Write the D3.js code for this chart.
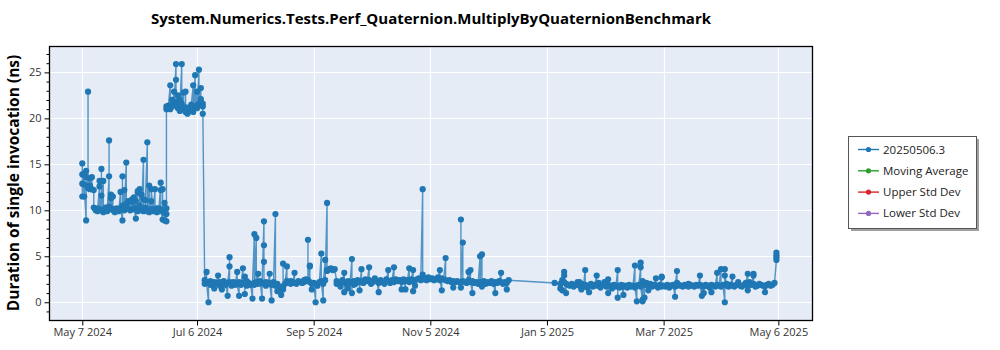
<!DOCTYPE html>
<html>
<head>
<meta charset="utf-8">
<script src="https://cdn.jsdelivr.net/npm/d3@7"></script>
<style>
  html, body { margin: 0; padding: 0; background: #ffffff; }
  svg { display: block; }
</style>
</head>
<body>
<svg id="chart" width="1000" height="350"></svg>
<script>
// ---- Data ----
const chartTitle = "System.Numerics.Tests.Perf_Quaternion.MultiplyByQuaternionBenchmark";
const yAxisTitle = "Duration of single invocation (ns)";
const legendLabels = ["20250506.3", "Moving Average", "Upper Std Dev", "Lower Std Dev"];
const legendColors = ["#1f77b4", "#2ca02c", "#d62728", "#9467bd"];
const xTickDates = ["2024-05-07", "2024-07-06", "2024-09-05", "2024-11-05", "2025-01-05", "2025-03-07", "2025-05-06"];
const xTickLabels = ["May 7 2024", "Jul 6 2024", "Sep 5 2024", "Nov 5 2024", "Jan 5 2025", "Mar 7 2025", "May 6 2025"];
const yTicks = [0, 5, 10, 15, 20, 25];
const xDomain = ["2024-04-19T14:00", "2025-05-24T03:00"];
const yDomain = [-1.93, 27.87];

// each row: run date, then the measured values (ns) of that date
const runs = [
  ["2024-05-07",15.1,13.9,12.9,11.5],
  ["2024-05-08",14.0,11.5,12.8],
  ["2024-05-09",8.9,13.6,14.3],
  ["2024-05-10",12.4,22.9,12.6],
  ["2024-05-11",13.5,12.3,12.7],
  ["2024-05-12",13.6,12.3],
  ["2024-05-13",12.2,10.3],
  ["2024-05-14",10.1,10.0],
  ["2024-05-15",9.9,10.2,10.0],
  ["2024-05-16",12.6,13.2,10.1],
  ["2024-05-17",11.6,14.5,10.0],
  ["2024-05-18",13.2,10.0,9.8],
  ["2024-05-19",10.1,10.3],
  ["2024-05-20",10.0,9.9],
  ["2024-05-21",13.7,17.6,10.4],
  ["2024-05-22",11.7,10.2,11.3],
  ["2024-05-23",10.0,11.5,10.1],
  ["2024-05-24",10.1,9.8],
  ["2024-05-25",10.0,10.2],
  ["2024-05-26",10.1,9.9],
  ["2024-05-27",12.0,10.2],
  ["2024-05-28",8.9,13.7,10.5],
  ["2024-05-29",12.2,10.0],
  ["2024-05-30",15.2,10.4,10.7],
  ["2024-05-31",10.2,11.0],
  ["2024-06-01",10.0,11.0],
  ["2024-06-02",10.9,11.2,10.1],
  ["2024-06-03",11.4,10.2],
  ["2024-06-04",9.1,11.0,10.3],
  ["2024-06-05",9.9,11.9,12.1],
  ["2024-06-06",12.3,10.5],
  ["2024-06-07",11.7,10.0,10.2],
  ["2024-06-08",15.5,11.2,9.9],
  ["2024-06-09",10.3,11.1],
  ["2024-06-10",17.4,9.9,10.0],
  ["2024-06-11",12.7,10.1,9.8],
  ["2024-06-12",11.0,10.1,12.3],
  ["2024-06-13",10.1,9.9],
  ["2024-06-14",12.3,10.0],
  ["2024-06-15",10.2,9.8],
  ["2024-06-16",10.2,9.9],
  ["2024-06-17",13.0,12.2,10.0],
  ["2024-06-18",9.0,12.3,10.1],
  ["2024-06-19",9.7,10.8,8.9],
  ["2024-06-20",8.8,10.2,9.6,21.3,21.0],
  ["2024-06-21",21.2,21.1,21.4],
  ["2024-06-22",23.6,21.2,21.0],
  ["2024-06-23",21.5,22.0,21.3],
  ["2024-06-24",22.9,21.6],
  ["2024-06-25",25.9,24.2,21.8],
  ["2024-06-26",22.5,21.1,21.4],
  ["2024-06-27",21.0,22.0,20.8],
  ["2024-06-28",25.9,21.6,21.2],
  ["2024-06-29",22.8,21.0],
  ["2024-06-30",20.7,22.9,21.2],
  ["2024-07-01",20.5,21.0],
  ["2024-07-02",21.2,20.8],
  ["2024-07-03",21.0,21.5],
  ["2024-07-04",23.6,21.1,20.7],
  ["2024-07-05",24.7,21.3],
  ["2024-07-06",22.9,21.4,21.1],
  ["2024-07-07",25.3,21.6],
  ["2024-07-08",23.3,21.8,22.1],
  ["2024-07-09",21.6,20.5,21.3],
  ["2024-07-10",2.4,2.0],
  ["2024-07-11",3.3,2.1],
  ["2024-07-12",0.0,2.2],
  ["2024-07-13",2.3,1.9],
  ["2024-07-14",2.0],
  ["2024-07-15",1.5,2.2],
  ["2024-07-16",2.1],
  ["2024-07-17",2.9,2.0],
  ["2024-07-18",1.8,2.2],
  ["2024-07-19",1.4,2.1],
  ["2024-07-20",2.3,2.0],
  ["2024-07-21",1.9],
  ["2024-07-22",0.7,2.1],
  ["2024-07-23",3.9,4.9,2.2],
  ["2024-07-24",2.0,1.8],
  ["2024-07-25",2.2],
  ["2024-07-26",1.9,2.1],
  ["2024-07-27",3.3,2.0],
  ["2024-07-28",0.7,2.2],
  ["2024-07-29",1.9],
  ["2024-07-30",3.7,2.1],
  ["2024-07-31",2.8,0.9,2.0],
  ["2024-08-01",2.3,1.8],
  ["2024-08-02",2.1],
  ["2024-08-03",1.9],
  ["2024-08-04",0.4,2.0],
  ["2024-08-05",7.4,2.1,1.9],
  ["2024-08-06",7.0,2.2],
  ["2024-08-07",3.1,2.0],
  ["2024-08-08",2.3],
  ["2024-08-09",0.4,2.1],
  ["2024-08-10",8.8,4.4,6.2,2.0],
  ["2024-08-11",1.8,2.2],
  ["2024-08-12",2.0],
  ["2024-08-13",3.1,2.1],
  ["2024-08-14",0.2,1.9],
  ["2024-08-15",2.2],
  ["2024-08-16",9.6,1.8],
  ["2024-08-17",1.2,2.0],
  ["2024-08-18",1.5],
  ["2024-08-19",0.8,1.7],
  ["2024-08-20",1.6,4.2,1.4],
  ["2024-08-21",2.0],
  ["2024-08-22",3.9,2.3],
  ["2024-08-23",2.1],
  ["2024-08-24",2.3,2.0],
  ["2024-08-25",2.2],
  ["2024-08-26",3.2,2.1],
  ["2024-08-27",2.0],
  ["2024-08-28",2.3],
  ["2024-08-29",2.2],
  ["2024-08-30",2.1],
  ["2024-08-31",2.4,2.2],
  ["2024-09-01",2.5],
  ["2024-09-02",2.3,6.8,2.4],
  ["2024-09-03",4.0,3.9,2.2],
  ["2024-09-04",1.4,2.0],
  ["2024-09-05",2.1],
  ["2024-09-06",0.0,2.0],
  ["2024-09-07",1.8],
  ["2024-09-08",2.2],
  ["2024-09-09",5.3,2.3],
  ["2024-09-10",0.2,2.0],
  ["2024-09-11",4.6,2.4],
  ["2024-09-12",10.8,3.4,3.5],
  ["2024-09-13",3.6],
  ["2024-09-14",3.7,3.6],
  ["2024-09-15",3.5],
  ["2024-09-16",3.6],
  ["2024-09-17",2.3,2.0],
  ["2024-09-18",2.1],
  ["2024-09-19",1.7,2.2],
  ["2024-09-20",2.4],
  ["2024-09-21",3.2,1.1,2.2],
  ["2024-09-22",2.0],
  ["2024-09-23",1.5,2.3],
  ["2024-09-24",2.1],
  ["2024-09-25",4.7,1.0,2.2],
  ["2024-09-26",1.9,2.3],
  ["2024-09-27",2.0],
  ["2024-09-28",2.4],
  ["2024-09-29",2.2,1.3],
  ["2024-09-30",3.6,2.3],
  ["2024-10-01",2.1],
  ["2024-10-02",2.5],
  ["2024-10-03",2.3],
  ["2024-10-04",3.8,2.4],
  ["2024-10-05",2.0],
  ["2024-10-06",2.2],
  ["2024-10-07",2.6],
  ["2024-10-08",2.3],
  ["2024-10-09",1.1,2.1],
  ["2024-10-10",2.4],
  ["2024-10-11",2.2],
  ["2024-10-12",2.0],
  ["2024-10-13",2.5],
  ["2024-10-14",3.5,2.3],
  ["2024-10-15",2.1],
  ["2024-10-16",2.4],
  ["2024-10-17",3.8,2.2],
  ["2024-10-18",2.5],
  ["2024-10-19",2.3],
  ["2024-10-20",2.4],
  ["2024-10-21",1.4,2.2],
  ["2024-10-22",2.5],
  ["2024-10-23",1.4,2.3],
  ["2024-10-24",2.4],
  ["2024-10-25",3.7,2.2],
  ["2024-10-26",2.5],
  ["2024-10-27",3.5,1.2,2.3],
  ["2024-10-28",1.8,2.4],
  ["2024-10-29",2.5],
  ["2024-10-30",2.6],
  ["2024-10-31",2.4],
  ["2024-11-01",12.3,3.0,2.5],
  ["2024-11-02",2.6],
  ["2024-11-03",2.4],
  ["2024-11-04",2.7],
  ["2024-11-05",2.5],
  ["2024-11-06",2.6],
  ["2024-11-07",2.4],
  ["2024-11-08",2.5],
  ["2024-11-09",2.7],
  ["2024-11-10",3.5,2.4],
  ["2024-11-11",1.3,2.6],
  ["2024-11-12",2.5],
  ["2024-11-13",4.8,2.4],
  ["2024-11-14",2.3],
  ["2024-11-15",2.4],
  ["2024-11-16",2.2],
  ["2024-11-17",1.6,2.3],
  ["2024-11-18",2.2],
  ["2024-11-19",2.3],
  ["2024-11-20",2.2],
  ["2024-11-21",1.6,9.0,2.2],
  ["2024-11-22",6.5,2.3],
  ["2024-11-23",2.2],
  ["2024-11-24",2.1],
  ["2024-11-25",3.3,2.4],
  ["2024-11-26",3.5,2.2],
  ["2024-11-27",1.0,2.3],
  ["2024-11-28",2.1],
  ["2024-11-29",2.2],
  ["2024-11-30",2.0],
  ["2024-12-01",5.0,2.2],
  ["2024-12-02",5.2,1.7,2.1],
  ["2024-12-03",2.3],
  ["2024-12-04",2.0],
  ["2024-12-05",2.2],
  ["2024-12-06",2.1],
  ["2024-12-07",2.3],
  ["2024-12-08",2.0],
  ["2024-12-09",1.0,2.2],
  ["2024-12-10",2.1],
  ["2024-12-11",2.3],
  ["2024-12-12",3.2,2.2],
  ["2024-12-13",2.0],
  ["2024-12-14",2.2],
  ["2024-12-15",1.4,2.1],
  ["2024-12-16",2.4],
  ["2025-01-09",2.1],
  ["2025-01-12",2.0,1.5],
  ["2025-01-13",1.3,2.4],
  ["2025-01-14",3.3,2.9,2.2],
  ["2025-01-15",1.0,2.0],
  ["2025-01-16",1.9],
  ["2025-01-17",1.8],
  ["2025-01-18",2.0],
  ["2025-01-19",1.7],
  ["2025-01-20",1.9],
  ["2025-01-21",2.2],
  ["2025-01-22",2.2,1.8],
  ["2025-01-23",1.4,2.0],
  ["2025-01-24",1.7],
  ["2025-01-25",3.5,1.9],
  ["2025-01-26",1.6],
  ["2025-01-27",1.1,1.8],
  ["2025-01-28",2.0],
  ["2025-01-29",1.7],
  ["2025-01-30",1.9],
  ["2025-01-31",2.9,1.8],
  ["2025-02-01",2.1],
  ["2025-02-02",1.6],
  ["2025-02-03",1.9],
  ["2025-02-04",2.2],
  ["2025-02-05",1.7],
  ["2025-02-06",2.5,1.0,1.9],
  ["2025-02-07",1.8],
  ["2025-02-08",1.5],
  ["2025-02-09",1.9],
  ["2025-02-10",1.7],
  ["2025-02-11",3.5,0.5,1.8],
  ["2025-02-12",1.6],
  ["2025-02-13",1.9],
  ["2025-02-14",0.8,1.7],
  ["2025-02-15",1.8],
  ["2025-02-16",1.6],
  ["2025-02-17",1.9],
  ["2025-02-18",1.7],
  ["2025-02-19",1.8],
  ["2025-02-20",4.0,1.6],
  ["2025-02-21",0.1,1.8],
  ["2025-02-22",1.9],
  ["2025-02-23",3.8,4.3,1.7],
  ["2025-02-24",0.1,0.3,2.3],
  ["2025-02-25",0.5,1.9],
  ["2025-02-26",2.1],
  ["2025-02-27",1.3,1.8],
  ["2025-02-28",2.0],
  ["2025-03-01",1.7],
  ["2025-03-02",1.9],
  ["2025-03-03",2.6,1.8],
  ["2025-03-04",1.6],
  ["2025-03-05",1.9],
  ["2025-03-06",2.8,2.7,1.7],
  ["2025-03-07",1.8],
  ["2025-03-08",1.7],
  ["2025-03-09",1.9],
  ["2025-03-10",1.6],
  ["2025-03-11",1.8],
  ["2025-03-12",1.9],
  ["2025-03-13",0.6,1.7],
  ["2025-03-14",3.4,2.1,1.8],
  ["2025-03-15",1.9],
  ["2025-03-16",1.8],
  ["2025-03-17",1.7],
  ["2025-03-18",1.9],
  ["2025-03-19",1.8],
  ["2025-03-20",2.0,1.7],
  ["2025-03-21",1.9],
  ["2025-03-22",1.8],
  ["2025-03-23",1.7],
  ["2025-03-24",1.9],
  ["2025-03-25",1.8],
  ["2025-03-26",2.9,1.9],
  ["2025-03-27",0.7,1.8],
  ["2025-03-28",1.0,1.7],
  ["2025-03-29",1.9],
  ["2025-03-30",1.8],
  ["2025-03-31",1.6],
  ["2025-04-01",1.1,1.9],
  ["2025-04-02",1.8],
  ["2025-04-03",1.7],
  ["2025-04-04",3.2,1.9],
  ["2025-04-05",1.8],
  ["2025-04-06",3.6,1.7],
  ["2025-04-07",1.9],
  ["2025-04-08",0.0,3.6,2.9],
  ["2025-04-09",2.0,1.8],
  ["2025-04-10",1.7],
  ["2025-04-11",1.9],
  ["2025-04-12",2.8,1.8],
  ["2025-04-13",1.7],
  ["2025-04-14",1.9],
  ["2025-04-15",2.2],
  ["2025-04-16",1.8],
  ["2025-04-17",1.7],
  ["2025-04-18",1.9],
  ["2025-04-19",2.1],
  ["2025-04-20",3.1,1.3,1.8],
  ["2025-04-21",2.2],
  ["2025-04-22",1.9],
  ["2025-04-23",3.1,2.9,2.0],
  ["2025-04-24",1.7],
  ["2025-04-25",1.8],
  ["2025-04-26",2.0],
  ["2025-04-27",1.9],
  ["2025-04-28",1.8],
  ["2025-04-29",1.1,1.7],
  ["2025-04-30",1.9],
  ["2025-05-01",2.0],
  ["2025-05-02",1.8],
  ["2025-05-03",1.9],
  ["2025-05-04",2.1],
  ["2025-05-05",4.6,4.9,5.1,5.4]
];

// ---- Layout ----
const plot = { left: 49, right: 813, top: 46, bottom: 320 };
const parseDay = d3.utcParse("%Y-%m-%d");
const parseTime = d3.utcParse("%Y-%m-%dT%H:%M");

const points = runs.flatMap(([d, ...vals]) => vals.map(v => ({ date: parseDay(d), value: v })));

const x = d3.scaleUtc().domain(xDomain.map(parseTime)).range([plot.left, plot.right]);
const y = d3.scaleLinear().domain(yDomain).range([plot.bottom, plot.top]);

const svg = d3.select("#chart");
const font = "'Segoe UI', 'Open Sans', 'Noto Sans', sans-serif";

// background
svg.append("rect")
  .attr("x", plot.left).attr("y", plot.top)
  .attr("width", plot.right - plot.left).attr("height", plot.bottom - plot.top)
  .attr("fill", "#e5ecf6");

// gridlines
const grid = svg.append("g");
grid.selectAll("line.gy").data(yTicks).join("line")
  .attr("x1", plot.left).attr("x2", plot.right)
  .attr("y1", d => Math.round(y(d)) + 0.5).attr("y2", d => Math.round(y(d)) + 0.5)
  .attr("stroke", "#ffffff").attr("stroke-width", 1.2);
grid.selectAll("line.gx").data(xTickDates.map(parseDay)).join("line")
  .attr("y1", plot.top).attr("y2", plot.bottom)
  .attr("x1", d => Math.round(x(d)) + 0.5).attr("x2", d => Math.round(x(d)) + 0.5)
  .attr("stroke", "#ffffff").attr("stroke-width", 1.2);

// clip
svg.append("clipPath").attr("id", "clip").append("rect")
  .attr("x", plot.left).attr("y", plot.top)
  .attr("width", plot.right - plot.left).attr("height", plot.bottom - plot.top);

const series = svg.append("g").attr("clip-path", "url(#clip)");
series.append("path")
  .datum(points)
  .attr("fill", "none")
  .attr("stroke", legendColors[0])
  .attr("stroke-width", 1.4)
  .attr("stroke-opacity", 0.75)
  .attr("d", d3.line().x(d => x(d.date)).y(d => y(d.value)));
series.selectAll("circle").data(points).join("circle")
  .attr("cx", d => x(d.date)).attr("cy", d => y(d.value))
  .attr("r", 3.1)
  .attr("fill", legendColors[0]);

// frame
svg.append("rect")
  .attr("x", plot.left + 0.5).attr("y", plot.top + 0.5)
  .attr("width", plot.right - plot.left - 1).attr("height", plot.bottom - plot.top)
  .attr("fill", "none").attr("stroke", "#000").attr("stroke-width", 1.3);

// x axis
const xAxis = svg.append("g")
  .attr("transform", `translate(0,${plot.bottom + 0.5})`)
  .call(d3.axisBottom(x)
    .tickValues(xTickDates.map(parseDay))
    .tickFormat((d, i) => xTickLabels[i])
    .tickSize(5).tickPadding(3));
xAxis.select(".domain").remove();
xAxis.selectAll("text").attr("font-family", font).attr("font-size", 11).attr("fill", "#333");
xAxis.selectAll("line").attr("stroke", "#000");

// y axis (major + minor)
const yMinor = d3.range(-1, 28, 1).filter(v => v % 5 !== 0);
const yMinorAxis = svg.append("g")
  .attr("transform", `translate(${plot.left + 0.5},0)`)
  .call(d3.axisLeft(y).tickValues(yMinor).tickFormat("").tickSize(3));
yMinorAxis.select(".domain").remove();
yMinorAxis.selectAll("line").attr("stroke", "#000");

const yAxis = svg.append("g")
  .attr("transform", `translate(${plot.left + 0.5},0)`)
  .call(d3.axisLeft(y).tickValues(yTicks).tickSize(5).tickPadding(3));
yAxis.select(".domain").remove();
yAxis.selectAll("text").attr("font-family", font).attr("font-size", 11).attr("fill", "#333");
yAxis.selectAll("line").attr("stroke", "#000");

// title
svg.append("text")
  .attr("x", (plot.left + plot.right) / 2).attr("y", 24)
  .attr("text-anchor", "middle")
  .attr("font-family", font).attr("font-weight", "bold").attr("font-size", 15)
  .attr("fill", "#000")
  .text(chartTitle);

// y axis title
svg.append("text")
  .attr("transform", `translate(19,${(plot.top + plot.bottom) / 2}) rotate(-90)`)
  .attr("text-anchor", "middle")
  .attr("font-family", font).attr("font-weight", "bold").attr("font-size", 15.5)
  .attr("fill", "#000")
  .text(yAxisTitle);

// legend
const legend = { x: 848, y: 136, w: 128, h: 92 };
svg.append("rect")
  .attr("x", legend.x + 3).attr("y", legend.y + 3)
  .attr("width", legend.w).attr("height", legend.h)
  .attr("fill", "#a0a0a0");
svg.append("rect")
  .attr("x", legend.x + 0.5).attr("y", legend.y + 0.5)
  .attr("width", legend.w).attr("height", legend.h)
  .attr("fill", "#fff").attr("stroke", "#555").attr("stroke-width", 1);
const items = svg.append("g").selectAll("g").data(legendLabels).join("g")
  .attr("transform", (d, i) => `translate(${legend.x},${legend.y + 13.5 + i * 21.3})`);
items.append("line")
  .attr("x1", 10).attr("x2", 31).attr("y1", 0).attr("y2", 0)
  .attr("stroke", (d, i) => legendColors[i]).attr("stroke-width", 1.4);
items.append("circle")
  .attr("cx", 20.5).attr("cy", 0).attr("r", 2.6)
  .attr("fill", (d, i) => legendColors[i]);
items.append("text")
  .attr("x", 35).attr("y", 0).attr("dy", "0.35em")
  .attr("font-family", font).attr("font-size", 11.5).attr("fill", "#222")
  .text(d => d);
</script>
</body>
</html>
